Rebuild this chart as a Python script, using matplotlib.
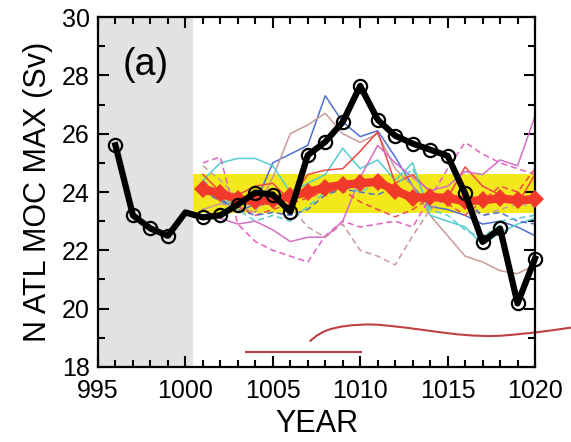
import matplotlib
matplotlib.use("Agg")
import matplotlib.pyplot as plt
from matplotlib.ticker import MultipleLocator

plt.rcParams["font.family"] = ["Liberation Sans", "DejaVu Sans"]

# control run (black) and ensemble mean (red)
ctrl_years = [996, 997, 998, 999, 1000, 1001, 1002, 1003, 1004, 1005, 1006, 1007, 1008,
              1009, 1010, 1011, 1012, 1013, 1014, 1015, 1016, 1017, 1018, 1019, 1020]
ctrl_moc = [25.6, 23.2, 22.75, 22.5, 23.3, 23.13, 23.2, 23.57, 23.98, 23.91, 23.32, 25.26, 25.72,
            26.4, 27.64, 26.48, 25.93, 25.66, 25.45, 25.24, 23.95, 22.29, 22.75, 20.18, 21.72]

ens_years = list(range(1001, 1021))
ens_mean = [24.1, 23.95, 23.75, 23.68, 23.72, 23.85, 24.0, 24.15, 24.25, 24.3,
            24.35, 24.05, 23.8, 23.82, 23.8, 23.68, 23.72, 23.78, 23.72, 23.75]

# ensemble members
blue_solid = [24.0, 23.8, 23.3, 23.6, 25.0, 25.3, 25.6, 27.3, 26.4, 25.9,
              26.1, 25.2, 24.2, 23.5, 23.4, 23.2, 22.9, 23.0, 22.8, 22.5]
brown_solid = [23.4, 23.6, 23.5, 23.3, 24.5, 26.0, 26.3, 26.7, 26.0, 25.7,
               26.0, 24.8, 24.2, 23.2, 22.5, 21.8, 21.6, 21.3, 21.2, 21.5]
cyan_solid = [24.4, 25.0, 25.15, 25.15, 24.9, 24.0, 24.3, 24.6, 25.5, 24.8,
              25.1, 24.4, 25.0, 23.2, 23.0, 22.8, 22.2, 22.6, 22.9, 23.1]
red_solid = [24.6, 24.0, 23.9, 24.2, 24.3, 23.7, 24.6, 24.75, 24.8, 25.4,
             26.06, 24.3, 24.6, 24.0, 23.8, 24.86, 24.2, 23.9, 23.6, 24.6]
magenta_solid = [23.4, 23.1, 22.9, 23.0, 22.7, 22.3, 22.45, 22.45, 23.0, 24.5,
                 25.6, 25.0, 24.5, 24.05, 24.2, 24.7, 24.6, 25.1, 24.9, 26.6]
magenta_dash = [25.0, 25.2, 22.9, 22.3, 22.0, 21.8, 21.6, 22.5, 23.0, 22.8,
                22.9, 23.0, 22.8, 23.8, 24.8, 25.7, 25.3, 25.0, 24.8, 24.6]
brown_dash = [24.9, 24.4, 23.8, 23.5, 23.6, 23.5, 22.8, 22.45, 22.9, 22.0,
              21.8, 21.5, 22.5, 23.4, 23.8, 23.5, 23.2, 23.4, 23.6, 23.5]
red_dash = [24.2, 23.8, 23.5, 23.2, 23.4, 23.6, 23.8, 24.0, 24.06, 23.66,
            23.4, 23.15, 23.4, 23.8, 23.6, 23.2, 23.7, 24.2, 24.0, 24.8]
blue_dash = [24.0, 23.7, 23.4, 23.2, 23.3, 23.2, 23.4, 23.9, 24.1, 24.0,
             23.9, 24.2, 23.8, 23.7, 23.95, 23.7, 23.2, 23.3, 23.0, 22.9]
cyan_dash = [24.4, 23.9, 23.4, 23.0, 23.2, 23.0, 23.5, 24.0, 24.2, 24.0,
             24.3, 24.2, 24.8, 23.4, 23.2, 22.7, 22.4, 23.0, 23.1, 23.2]

members = [
    (blue_solid, "#4f6fd0", "-"),
    (brown_solid, "#c99a98", "-"),
    (cyan_solid, "#55cdd0", "-"),
    (red_solid, "#f04848", "-"),
    (magenta_solid, "#d46ec8", "-"),
    (magenta_dash, "#e062c4", "--"),
    (brown_dash, "#c99a98", "--"),
    (red_dash, "#f04848", "--"),
    (blue_dash, "#4f6fd0", "--"),
    (cyan_dash, "#55cdd0", "--"),
]

# spread band and spin-up shading
band_low, band_high = 23.28, 24.63
spinup_start, spinup_end = 995, 1000.45

# brown bars along the bottom
bar_x = [1003.48, 1010.05]
bar_y = [18.52, 18.52]
curve_x = [1007.15, 1007.5, 1007.9, 1008.3, 1008.87, 1009.5, 1010.4, 1011.0, 1011.7,
           1012.6, 1013.6, 1014.6, 1015.55, 1016.4, 1017.3, 1018.0, 1018.8, 1020.1,
           1021.0, 1022.05]
curve_y = [18.9, 19.07, 19.21, 19.3, 19.38, 19.43, 19.46, 19.45, 19.41,
           19.35, 19.27, 19.19, 19.12, 19.08, 19.06, 19.07, 19.11, 19.19,
           19.26, 19.35]


def main():
    fig = plt.figure(figsize=(5.71, 4.42), dpi=100)
    ax = fig.add_axes([0.1716, 0.1697, 0.7654, 0.7918])

    ax.axvspan(spinup_start, spinup_end, color="#e2e2e2", zorder=0, lw=0)
    ax.fill_between([spinup_end, 1020], band_low, band_high, color="#f2e81c", zorder=1, lw=0)

    for values, color, ls in members:
        ax.plot(ens_years, values, color=color, ls=ls, lw=1.1, zorder=2,
                dashes=(4, 2.5) if ls == "--" else (None, None))

    ax.plot(ens_years, ens_mean, color="#f23a2a", lw=6, marker="D", markersize=9,
            markeredgewidth=0, zorder=3, clip_on=False)

    marks = [i for i, y in enumerate(ctrl_years) if y != 1000]
    ax.plot(ctrl_years, ctrl_moc, color="black", lw=4.5, zorder=4,
            marker="o", markersize=9.5, markerfacecolor="none", markeredgecolor="black",
            markeredgewidth=1.6, markevery=marks, clip_on=False)

    ax.plot(bar_x, bar_y, color="#bf4040", lw=1.5, zorder=2)
    ax.plot(curve_x, curve_y, color="#bf4040", lw=1.5, zorder=2, clip_on=False)

    ax.text(996.4, 28.35, "(a)", fontsize=27, ha="left", va="center")

    ax.set_xlim(995, 1020)
    ax.set_ylim(18, 30)
    ax.xaxis.set_major_locator(MultipleLocator(5))
    ax.xaxis.set_minor_locator(MultipleLocator(1))
    ax.yaxis.set_major_locator(MultipleLocator(2))
    ax.yaxis.set_minor_locator(MultipleLocator(1))
    ax.tick_params(which="both", direction="in", top=True, right=True, width=1.5,
                   labelsize=18)
    ax.tick_params(axis="x", pad=9)
    ax.tick_params(axis="y", pad=6)
    ax.tick_params(which="major", length=8)
    ax.tick_params(which="minor", length=5)
    for spine in ax.spines.values():
        spine.set_linewidth(1.6)

    ax.xaxis.get_major_ticks()[0].label1.set_horizontalalignment("left")

    ax.set_xlabel("YEAR", fontsize=22, labelpad=4)
    ax.set_ylabel("N ATL MOC MAX (Sv)", fontsize=22, labelpad=6)

    fig.savefig("out.png", dpi=100)


if __name__ == "__main__":
    main()
